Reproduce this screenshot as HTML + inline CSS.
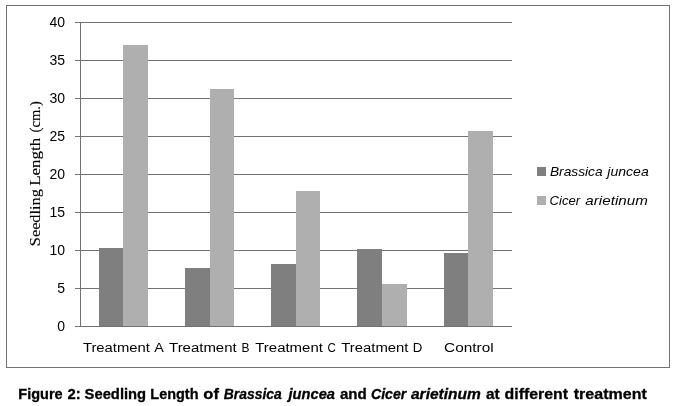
<!DOCTYPE html>
<html>
<head>
<meta charset="utf-8">
<style>
html,body{margin:0;padding:0;background:#fff;}
body{width:677px;height:406px;overflow:hidden;}
svg{display:block;will-change:transform;opacity:0.999;}
text{font-family:"Liberation Sans",sans-serif;fill:#000;}
.ser{font-family:"Liberation Serif",serif;}
</style>
</head>
<body>
<svg width="677" height="406" viewBox="0 0 677 406">
<rect x="0" y="0" width="677" height="406" fill="#ffffff"/>
<!-- chart frame -->
<rect x="6.5" y="5.5" width="663" height="362" fill="#fff" stroke="#727272" stroke-width="1" shape-rendering="crispEdges"/>
<!-- gridlines -->
<g stroke="#727272" stroke-width="1" shape-rendering="crispEdges">
<line x1="75" y1="22.5" x2="512" y2="22.5"/>
<line x1="75" y1="60.5" x2="512" y2="60.5"/>
<line x1="75" y1="98.5" x2="512" y2="98.5"/>
<line x1="75" y1="136.5" x2="512" y2="136.5"/>
<line x1="75" y1="174.5" x2="512" y2="174.5"/>
<line x1="75" y1="212.5" x2="512" y2="212.5"/>
<line x1="75" y1="250.5" x2="512" y2="250.5"/>
<line x1="75" y1="288.5" x2="512" y2="288.5"/>
<line x1="75" y1="326.5" x2="512" y2="326.5"/>
<line x1="80.5" y1="22" x2="80.5" y2="327"/>
</g>
<!-- bars -->
<g shape-rendering="crispEdges">
<g fill="#7f7f7f">
<rect x="99" y="248" width="24" height="78"/>
<rect x="185" y="268" width="25" height="58"/>
<rect x="271" y="264" width="25" height="62"/>
<rect x="357" y="249" width="25" height="77"/>
<rect x="444" y="253" width="24" height="73"/>
</g>
<g fill="#afafaf">
<rect x="123" y="45" width="25" height="281"/>
<rect x="210" y="89" width="24" height="237"/>
<rect x="296" y="191" width="24" height="135"/>
<rect x="382" y="284" width="25" height="42"/>
<rect x="468" y="131" width="25" height="195"/>
</g>
</g>
<!-- y labels -->
<g font-size="14" text-anchor="end">
<text x="65" y="27">40</text>
<text x="65" y="65">35</text>
<text x="65" y="103">30</text>
<text x="65" y="141">25</text>
<text x="65" y="179">20</text>
<text x="65" y="217">15</text>
<text x="65" y="255">10</text>
<text x="65" y="293">5</text>
<text x="65" y="331">0</text>
</g>
<!-- legend -->
<rect x="537" y="167" width="9" height="9" fill="#7f7f7f" shape-rendering="crispEdges"/>
<rect x="537" y="196" width="9" height="9" fill="#afafaf" shape-rendering="crispEdges"/>
<text id="c1" x="18.31" y="398.70" font-size="15.2" font-weight="bold" stroke="#000" stroke-width="0.3" textLength="44.31" lengthAdjust="spacingAndGlyphs">Figure</text>
<text id="c2" x="67.58" y="398.70" font-size="15.2" font-weight="bold" stroke="#000" stroke-width="0.3" textLength="13.23" lengthAdjust="spacingAndGlyphs">2:</text>
<text id="c3" x="84.62" y="398.70" font-size="15.2" font-weight="bold" stroke="#000" stroke-width="0.3" textLength="61.51" lengthAdjust="spacingAndGlyphs">Seedling</text>
<text id="c4" x="150.32" y="398.70" font-size="15.2" font-weight="bold" stroke="#000" stroke-width="0.3" textLength="48.15" lengthAdjust="spacingAndGlyphs">Length</text>
<text id="c5" x="203.36" y="398.70" font-size="15.2" font-weight="bold" stroke="#000" stroke-width="0.3" textLength="15.59" lengthAdjust="spacingAndGlyphs">of</text>
<text id="c6" x="223.81" y="398.70" font-size="15.2" font-weight="bold" font-style="italic" stroke="#000" stroke-width="0.3" textLength="58.00" lengthAdjust="spacingAndGlyphs">Brassica</text>
<text id="c7" x="288.51" y="398.70" font-size="15.2" font-weight="bold" font-style="italic" stroke="#000" stroke-width="0.3" textLength="46.46" lengthAdjust="spacingAndGlyphs">juncea</text>
<text id="c8" x="339.91" y="398.70" font-size="15.2" font-weight="bold" stroke="#000" stroke-width="0.3" textLength="26.83" lengthAdjust="spacingAndGlyphs">and</text>
<text id="c9" x="370.97" y="398.70" font-size="15.2" font-weight="bold" font-style="italic" stroke="#000" stroke-width="0.3" textLength="35.35" lengthAdjust="spacingAndGlyphs">Cicer</text>
<text id="c10" x="410.95" y="398.70" font-size="15.2" font-weight="bold" font-style="italic" stroke="#000" stroke-width="0.3" textLength="69.94" lengthAdjust="spacingAndGlyphs">arietinum</text>
<text id="c11" x="486.01" y="398.70" font-size="15.2" font-weight="bold" stroke="#000" stroke-width="0.3" textLength="13.70" lengthAdjust="spacingAndGlyphs">at</text>
<text id="c12" x="504.54" y="398.70" font-size="15.2" font-weight="bold" stroke="#000" stroke-width="0.3" textLength="63.45" lengthAdjust="spacingAndGlyphs">different</text>
<text id="c13" x="573.79" y="398.70" font-size="15.2" font-weight="bold" stroke="#000" stroke-width="0.3" textLength="73.00" lengthAdjust="spacingAndGlyphs">treatment</text>
<text id="t1" x="82.92" y="351.60" font-size="13.7"  textLength="67.01" lengthAdjust="spacingAndGlyphs">Treatment</text>
<text id="t1b" x="154.33" y="351.60" font-size="13.7"  textLength="9.55" lengthAdjust="spacingAndGlyphs">A</text>
<text id="t2" x="169.06" y="351.60" font-size="13.7"  textLength="67.62" lengthAdjust="spacingAndGlyphs">Treatment</text>
<text id="t2b" x="241.39" y="351.60" font-size="13.7"  textLength="7.98" lengthAdjust="spacingAndGlyphs">B</text>
<text id="t3" x="255.25" y="351.60" font-size="13.7"  textLength="67.63" lengthAdjust="spacingAndGlyphs">Treatment</text>
<text id="t3b" x="327.39" y="351.60" font-size="13.7"  textLength="8.34" lengthAdjust="spacingAndGlyphs">C</text>
<text id="t4" x="341.23" y="351.60" font-size="13.7"  textLength="67.27" lengthAdjust="spacingAndGlyphs">Treatment</text>
<text id="t4b" x="412.81" y="351.60" font-size="13.7"  textLength="9.57" lengthAdjust="spacingAndGlyphs">D</text>
<text id="t5" x="444.05" y="351.60" font-size="13.7"  textLength="49.56" lengthAdjust="spacingAndGlyphs">Control</text>
<text id="l1" x="549.96" y="175.60" font-size="13.5" font-style="italic" textLength="52.63" lengthAdjust="spacingAndGlyphs">Brassica</text>
<text id="l1b" x="607.30" y="175.60" font-size="13.5" font-style="italic" textLength="41.43" lengthAdjust="spacingAndGlyphs">juncea</text>
<text id="l2" x="549.52" y="204.80" font-size="13.5" font-style="italic" textLength="30.58" lengthAdjust="spacingAndGlyphs">Cicer</text>
<text id="l2b" x="585.37" y="204.80" font-size="13.5" font-style="italic" textLength="62.44" lengthAdjust="spacingAndGlyphs">arietinum</text>
<text id="y1" class="ser" stroke="#000" stroke-width="0.12" font-size="14.2" transform="translate(40.30,246.19) rotate(-90)" textLength="57.11" lengthAdjust="spacingAndGlyphs">Seedling</text>
<text id="y2" class="ser" stroke="#000" stroke-width="0.12" font-size="14.2" transform="translate(40.30,185.85) rotate(-90)" textLength="48.00" lengthAdjust="spacingAndGlyphs">Length</text>
<text id="y3" class="ser" stroke="#000" stroke-width="0.12" font-size="14.2" transform="translate(40.30,132.50) rotate(-90)" textLength="31.32" lengthAdjust="spacingAndGlyphs">(cm.)</text>
</svg>
</body>
</html>
